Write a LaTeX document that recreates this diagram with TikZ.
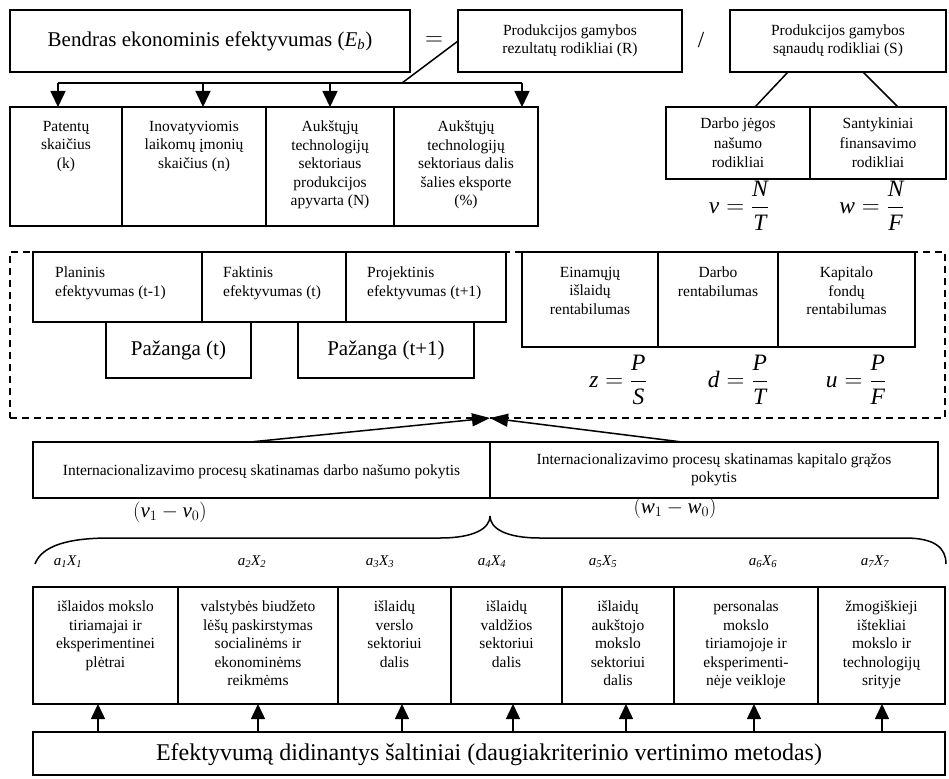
\documentclass[tikz,border=0pt]{standalone}
\usepackage{amsmath}
\usepackage{fontspec}
\setmainfont{Liberation Serif}
\usetikzlibrary{arrows.meta}
\newcommand\cellbox[5]{\node[box, minimum width={(#4-#2)*1bp}, minimum height={(#5-#3)*1bp}] (#1) at (#2,#3) {};}
\newcommand\vi[1]{\textit{#1}}
\tikzset{
  box/.style={draw, line width=1.5bp, inner sep=0pt, outer sep=0pt, anchor=north west},
  txt/.style={inner sep=0pt, align=center, font=\fontsize{15.5bp}{18.4bp}\selectfont},
  ltxt/.style={inner sep=0pt, align=left, font=\fontsize{15.5bp}{19bp}\selectfont},
  big/.style={inner sep=0pt, align=center, font=\fontsize{21bp}{25bp}\selectfont},
  frm/.style={inner sep=0pt, font=\fontsize{23.5bp}{28bp}\selectfont},
  lab/.style={inner sep=0pt, font=\fontsize{15bp}{18bp}\selectfont\itshape},
  conn/.style={line width=1.5bp},
  arr/.style={line width=1.5bp, -{Triangle[length=16bp,width=15bp]}},
  arrb/.style={line width=1.5bp, -{Triangle[length=15bp,width=14bp]}},
  arrs/.style={line width=1.5bp, -{Triangle[length=18bp,width=13bp]}},
}
\begin{document}
\begin{tikzpicture}[x=1bp,y=-1bp]
\fill[white] (0,0) rectangle (949,779);
\useasboundingbox (0,0) rectangle (949,779);

% ---------- top row ----------
\cellbox{eb}{10}{10}{410}{72}
\node[big] (ebt) at (eb.center) {Bendras ekonominis efektyvumas (\textit{E}\textsubscript{\textit{b}})};
\node[inner sep=0pt, font=\fontsize{30bp}{30bp}\selectfont] (eq) at (434,41) {$=$};
\cellbox{R}{458}{10}{682}{72}
\node[txt] (Rt) at (R.center) {Produkcijos gamybos\\rezultatų rodikliai (R)};
\node[inner sep=0pt, font=\fontsize{23bp}{24bp}\selectfont] (sl) at (701,40) {/};
\cellbox{S}{730}{10}{946}{72}
\node[txt] (St) at (S.center) {Produkcijos gamybos\\sąnaudų rodikliai (S)};

% ---------- second row left ----------
\cellbox{b1}{10}{107}{122}{226}
\cellbox{b2}{122}{107}{266}{226}
\cellbox{b3}{266}{107}{394}{226}
\cellbox{b4}{394}{107}{538}{226}
\node[txt, anchor=north] (b1t) at (66,121) {Patentų\\skaičius\\(k)};
\node[txt, anchor=north] (b2t) at (194,121) {Inovatyviomis\\laikomų įmonių\\skaičius (n)};
\node[txt, anchor=north] (b3t) at (330,121) {Aukštųjų\\technologijų\\sektoriaus\\produkcijos\\apyvarta (N)};
\node[txt, anchor=north] (b4t) at (466,121) {Aukštųjų\\technologijų\\sektoriaus dalis\\šalies eksporte\\(\%)};

\coordinate (rj) at (402,83);
\coordinate (p1) at (58,83);
\coordinate (p2) at (203,83);
\coordinate (p3) at (330,83);
\coordinate (p4) at (522,83);
\draw[conn] (R.west) -- (rj);
\draw[conn] (p1) -- (p4);
\draw[arr] (p1) -- (p1 |- b1.north);
\draw[arr] (p2) -- (p2 |- b2.north);
\draw[arr] (p3) -- (p3 |- b3.north);
\draw[arr] (p4) -- (p4 |- b4.north);

% ---------- second row right ----------
\cellbox{c1}{666}{107}{810}{179}
\cellbox{c2}{810}{107}{946}{179}
\node[txt, font=\fontsize{15.5bp}{19.5bp}\selectfont] (c1t) at (c1.center) {Darbo jėgos\\našumo\\rodikliai};
\node[txt, font=\fontsize{15.5bp}{19.5bp}\selectfont] (c2t) at (c2.center) {Santykiniai\\finansavimo\\rodikliai};
\coordinate (s1) at (788,72);
\coordinate (s2) at (863,72);
\coordinate (d1) at (755,107);
\coordinate (d2) at (898,107);
\draw[conn] (s1) -- (d1);
\draw[conn] (s2) -- (d2);
\node[frm] (fv) at (739,206) {$\vi{v}=\dfrac{\vi{N}}{\vi{T}}$};
\node[frm] (fw) at (872,206) {$\vi{w}=\dfrac{\vi{N}}{\vi{F}}$};

% ---------- dashed group ----------
\node[draw, line width=1.4bp, dash pattern=on 7bp off 5bp, inner sep=0pt, outer sep=0pt, anchor=north west,
      minimum width=935bp, minimum height=166bp] (dash) at (10,252) {};
\cellbox{e1}{33}{252}{202}{322}
\cellbox{e2}{202}{252}{346}{322}
\cellbox{e3}{346}{252}{506}{322}
\node[ltxt, anchor=north west] (e1t) at (55,267) {Planinis\\efektyvumas (t-1)};
\node[ltxt, anchor=north west] (e2t) at (223,267) {Faktinis\\efektyvumas (t)};
\node[ltxt, anchor=north west] (e3t) at (367,267) {Projektinis\\efektyvumas (t+1)};
\cellbox{pg1}{106}{322}{251}{378}
\cellbox{pg2}{298}{322}{474}{378}
\node[big] (pg1t) at (pg1.center) {Pažanga (t)};
\node[big] (pg2t) at (pg2.center) {Pažanga (t+1)};

\cellbox{r1}{522}{252}{658}{347}
\cellbox{r2}{658}{252}{778}{347}
\cellbox{r3}{778}{252}{915}{347}
\node[txt, anchor=north] (r1t) at (590,267) {Einamųjų\\išlaidų\\rentabilumas};
\node[txt, anchor=north] (r2t) at (718,267) {Darbo\\rentabilumas};
\node[txt, anchor=north] (r3t) at (846.5,267) {Kapitalo\\fondų\\rentabilumas};
\node[frm] (fz) at (618,380) {$\vi{z}=\dfrac{\vi{P}}{\vi{S}}$};
\node[frm] (fd) at (738,380) {$\vi{d}=\dfrac{\vi{P}}{\vi{T}}$};
\node[frm] (fu) at (856,380) {$\vi{u}=\dfrac{\vi{P}}{\vi{F}}$};

% ---------- internationalisation ----------
\cellbox{il}{33}{442}{490}{498}
\cellbox{ir}{490}{442}{938}{498}
\node[txt] (ilt) at ([yshift=-2bp]il.center) {Internacionalizavimo procesų skatinamas darbo našumo pokytis};
\node[txt] (irt) at (ir.center) {Internacionalizavimo procesų skatinamas kapitalo grąžos\\pokytis};
\coordinate (ila) at (250,442);
\coordinate (ira) at (682,442);
\coordinate (dt) at (490,418);
\draw[arrs] (ila) -- (dt);
\draw[arrs] (ira) -- (dt);
\node[frm, font=\fontsize{21bp}{24bp}\selectfont] (vv) at (170,512) {$(\vi{v}_1-\vi{v}_0)$};
\node[frm, font=\fontsize{21bp}{24bp}\selectfont] (ww) at (675,508) {$(\vi{w}_1-\vi{w}_0)$};

% ---------- brace ----------
\draw[conn] (35,564) .. controls (42,545) and (70,538) .. (110,538)
  -- (440,538) .. controls (475,538) and (490,528) .. (490,516);
\draw[conn] (490,516) .. controls (490,528) and (505,538) .. (540,538)
  -- (905,538) .. controls (935,538) and (946,548) .. (946,564);

% ---------- weights ----------
\node[lab] (w1) at (68,562) {a\textsubscript{1}X\textsubscript{1}};
\node[lab] (w2) at (252,562) {a\textsubscript{2}X\textsubscript{2}};
\node[lab] (w3) at (380,562) {a\textsubscript{3}X\textsubscript{3}};
\node[lab] (w4) at (492,562) {a\textsubscript{4}X\textsubscript{4}};
\node[lab] (w5) at (603,562) {a\textsubscript{5}X\textsubscript{5}};
\node[lab] (w6) at (763,562) {a\textsubscript{6}X\textsubscript{6}};
\node[lab] (w7) at (875,562) {a\textsubscript{7}X\textsubscript{7}};

% ---------- bottom boxes ----------
\cellbox{f1}{33}{587}{178}{704}
\cellbox{f2}{178}{587}{338}{704}
\cellbox{f3}{338}{587}{451}{704}
\cellbox{f4}{451}{587}{562}{704}
\cellbox{f5}{562}{587}{674}{704}
\cellbox{f6}{674}{587}{818}{704}
\cellbox{f7}{818}{587}{945}{704}
\node[txt, anchor=north] (f1t) at (105.5,601) {išlaidos mokslo\\tiriamajai ir\\eksperimentinei\\plėtrai};
\node[txt, anchor=north] (f2t) at (258,601) {valstybės biudžeto\\lėšų paskirstymas\\socialinėms ir\\ekonominėms\\reikmėms};
\node[txt, anchor=north] (f3t) at (394.5,601) {išlaidų\\verslo\\sektoriui\\dalis};
\node[txt, anchor=north] (f4t) at (506.5,601) {išlaidų\\valdžios\\sektoriui\\dalis};
\node[txt, anchor=north] (f5t) at (618,601) {išlaidų\\aukštojo\\mokslo\\sektoriui\\dalis};
\node[txt, anchor=north] (f6t) at (746,601) {personalas\\mokslo\\tiriamojoje ir\\eksperimenti-\\nėje veikloje};
\node[txt, anchor=north] (f7t) at (881.5,601) {žmogiškieji\\ištekliai\\mokslo ir\\technologijų\\srityje};

\cellbox{src}{33}{732}{945}{775}
\node[inner sep=0pt, font=\fontsize{24bp}{28bp}\selectfont] (srct) at (489,755) {Efektyvumą didinantys šaltiniai (daugiakriterinio vertinimo metodas)};

\foreach \x/\n in {98/f1,258/f2,402/f3,513/f4,626/f5,754/f6,882/f7}{
  \draw[arrb] (\x,0 |- src.north) -- (\x,0 |- \n.south);
}
\end{tikzpicture}
\end{document}
